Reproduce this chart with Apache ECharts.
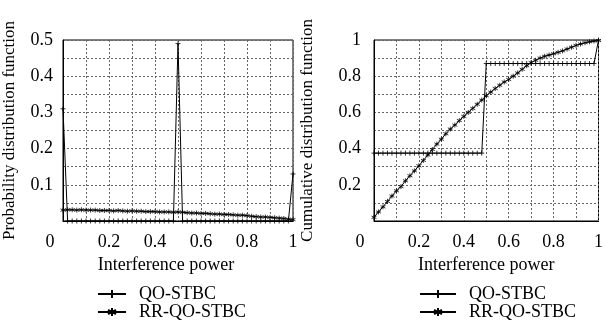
<!DOCTYPE html>
<html>
<head>
<meta charset="utf-8">
<script src="https://cdn.jsdelivr.net/npm/echarts@6/dist/echarts.min.js"></script>
<style>
  html, body {margin: 0; padding: 0; background: #fff;}
  #chart {width: 606px; height: 320px;}
</style>
</head>
<body>
<div id="chart"></div>
<script>
// interference power samples (step 0.02)
const power = [
  0.00, 0.02, 0.04, 0.06, 0.08, 0.10, 0.12, 0.14, 0.16, 0.18,
  0.20, 0.22, 0.24, 0.26, 0.28, 0.30, 0.32, 0.34, 0.36, 0.38,
  0.40, 0.42, 0.44, 0.46, 0.48, 0.50, 0.52, 0.54, 0.56, 0.58,
  0.60, 0.62, 0.64, 0.66, 0.68, 0.70, 0.72, 0.74, 0.76, 0.78,
  0.80, 0.82, 0.84, 0.86, 0.88, 0.90, 0.92, 0.94, 0.96, 0.98,
  1.00
]

// probability distribution function
const pdfQO = [
  0.31, 0, 0, 0, 0, 0, 0, 0, 0, 0,
  0, 0, 0, 0, 0, 0, 0, 0, 0, 0,
  0, 0, 0, 0, 0, 0.49, 0, 0, 0, 0,
  0, 0, 0, 0, 0, 0, 0, 0, 0, 0,
  0, 0, 0, 0, 0, 0, 0, 0, 0, 0,
  0.13
]
const pdfRR = [
  0.030, 0.031, 0.031, 0.030, 0.031, 0.030, 0.030, 0.030, 0.029, 0.029,
  0.029, 0.028, 0.029, 0.028, 0.027, 0.028, 0.027, 0.027, 0.026, 0.026,
  0.026, 0.025, 0.025, 0.025, 0.024, 0.025, 0.024, 0.023, 0.022, 0.022,
  0.021, 0.021, 0.020, 0.019, 0.019, 0.018, 0.018, 0.017, 0.016, 0.016,
  0.015, 0.013, 0.012, 0.011, 0.011, 0.010, 0.009, 0.008, 0.007, 0.005,
  0.004
]

// cumulative distribution function
const cdfQO = [
  0.375, 0.375, 0.375, 0.375, 0.375, 0.375, 0.375, 0.375, 0.375, 0.375,
  0.375, 0.375, 0.375, 0.375, 0.375, 0.375, 0.375, 0.375, 0.375, 0.375,
  0.375, 0.375, 0.375, 0.375, 0.375, 0.87, 0.87, 0.87, 0.87, 0.87,
  0.87, 0.87, 0.87, 0.87, 0.87, 0.87, 0.87, 0.87, 0.87, 0.87,
  0.87, 0.87, 0.87, 0.87, 0.87, 0.87, 0.87, 0.87, 0.87, 0.87,
  1.0
]
const cdfRR = [
  0.020, 0.050, 0.078, 0.108, 0.138, 0.167, 0.190, 0.222, 0.250, 0.277,
  0.305, 0.335, 0.365, 0.395, 0.425, 0.452, 0.482, 0.508, 0.530, 0.555,
  0.578, 0.600, 0.622, 0.645, 0.668, 0.692, 0.712, 0.732, 0.750, 0.768,
  0.782, 0.800, 0.818, 0.838, 0.858, 0.875, 0.888, 0.900, 0.910, 0.917,
  0.924, 0.932, 0.940, 0.950, 0.960, 0.970, 0.978, 0.985, 0.990, 0.994,
  0.997
]

const seriesNames = ['QO-STBC', 'RR-QO-STBC']
const xName = 'Interference power'
const yNames = ['Probability distribution function', 'Cumulative distribution function']

const font = "'Liberation Serif', 'Times New Roman', serif"
const plus = 'path://M0,5L10,5M5,0L5,10'
const star = 'path://M5,0L5,10M1,2.5L9,7.5M1,7.5L9,2.5'

const pairs = (ys) => power.map((x, i) => [x, ys[i]])

const makeLine = (name, ys, idx, symbol) => ({
  name: name,
  type: 'line',
  xAxisIndex: idx,
  yAxisIndex: idx,
  data: pairs(ys),
  symbol: symbol,
  symbolSize: 5,
  showAllSymbol: true,
  lineStyle: {color: '#000', width: 1},
  itemStyle: {color: '#000', borderColor: '#000', borderWidth: 0.8},
  emphasis: {disabled: true}
})

const xAxisOf = (idx, zeroPad) => ({
  type: 'value',
  gridIndex: idx,
  min: 0,
  max: 1,
  interval: 0.1,
  name: xName,
  nameLocation: 'middle',
  nameGap: 35,
  nameTextStyle: {color: '#000', fontFamily: font, fontSize: 18,
    padding: idx === 0 ? [0, 24, 0, 0] : 0},
  axisLine: {lineStyle: {color: '#000'}},
  axisTick: {show: false},
  axisLabel: {
    color: '#000', fontFamily: font, fontSize: 18, margin: 12,
    formatter(v) {
      const k = Math.round(v * 10)
      if (k === 0) return '{z|0}'
      return k % 2 === 0 ? String(k / 10) : ''
    },
    rich: {z: {color: '#000', fontFamily: font, fontSize: 18, padding: [0, zeroPad, 0, 0]}}
  },
  splitLine: {show: true, lineStyle: {color: '#666', type: [2, 2], width: 1}}
})

const yAxisOf = (idx, max, step, labelStep, gap, margin) => ({
  type: 'value',
  gridIndex: idx,
  min: 0,
  max: max,
  interval: step,
  name: yNames[idx],
  nameLocation: 'middle',
  nameGap: gap,
  nameTextStyle: {color: '#000', fontFamily: font, fontSize: 17},
  axisLine: {lineStyle: {color: '#000'}},
  axisTick: {show: false},
  axisLabel: {
    color: '#000', fontFamily: font, fontSize: 18, margin: margin,
    formatter(v) {
      const k = Math.round(v / step)
      const m = Math.round(labelStep / step)
      if (k === 0 || k % m !== 0) return ''
      return String(Math.round(v * 10) / 10)
    }
  },
  splitLine: {show: true, lineStyle: {color: '#666', type: [2, 2], width: 1}}
})

// one legend entry per box so the pairs stack like the reference
const legendOf = (name, left, top, width) => ({
  orient: 'vertical',
  left: left,
  top: top,
  itemWidth: width,
  itemHeight: 10,
  data: [name],
  textStyle: {color: '#000', fontFamily: font, fontSize: 18, padding: [0, 0, 0, 8]}
})

const chart = echarts.init(document.getElementById('chart'))
chart.setOption({
  animation: false,
  backgroundColor: '#fff',
  grid: [
    {left: 63, right: 313, top: 40, bottom: 99, show: true, borderColor: '#000', borderWidth: 1},
    {left: 374, right: 4, top: 40, bottom: 99, show: true, borderColor: '#000', borderWidth: 1}
  ],
  xAxis: [xAxisOf(0, 26), xAxisOf(1, 28)],
  yAxis: [
    yAxisOf(0, 0.5, 0.05, 0.1, 45, 10),
    yAxisOf(1, 1, 0.1, 0.2, 58, 13)
  ],
  legend: [
    legendOf(seriesNames[0], 92, 280, 28),
    legendOf(seriesNames[1], 92, 298, 28),
    legendOf(seriesNames[0], 414, 280, 36),
    legendOf(seriesNames[1], 414, 298, 36)
  ],
  series: [
    makeLine(seriesNames[0], pdfQO, 0, plus),
    makeLine(seriesNames[1], pdfRR, 0, star),
    makeLine(seriesNames[0], cdfQO, 1, plus),
    makeLine(seriesNames[1], cdfRR, 1, star)
  ]
})
</script>
</body>
</html>
